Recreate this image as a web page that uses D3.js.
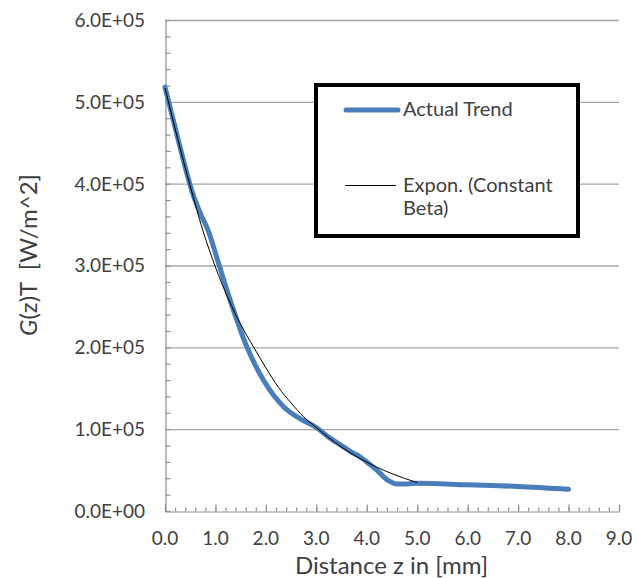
<!DOCTYPE html>
<html>
<head>
<meta charset="utf-8">
<script src="https://cdn.jsdelivr.net/npm/d3@7"></script>
<style>
  body { margin: 0; background: #fff; }
  svg text { font-family: Lato, "Open Sans", sans-serif; fill: #404040; }
</style>
</head>
<body>
<svg id="chart" width="636" height="578"></svg>
<script>
// Actual Trend (blue)
var actualX = [0, 0.26, 0.56, 0.7, 0.86, 1.06, 1.29, 1.62, 1.95, 2.35, 2.7, 3.0, 3.27, 3.5, 3.67, 3.87, 4.0, 4.2, 4.43, 4.6, 4.8, 5.0, 6.0, 7.0, 8.0];
var actualY = [5.18e5, 4.54e5, 3.86e5, 3.64e5, 3.42e5, 3.03e5, 2.58e5, 2.01e5, 1.60e5, 1.275e5, 1.12e5, 1.02e5, 0.89e5, 0.80e5, 0.73e5, 0.66e5, 0.60e5, 0.50e5, 0.37e5, 0.33e5, 0.33e5, 0.34e5, 0.32e5, 0.30e5, 0.265e5];

// Expon. (Constant Beta) (black)
var expoX = [0, 0.25, 0.5, 0.75, 1, 1.25, 1.5, 1.75, 2, 2.25, 2.5, 2.75, 3, 3.25, 3.5, 3.75, 4, 4.25, 4.5, 4.75, 5];
var expoY = [5.17e5, 4.55e5, 3.97e5, 3.43e5, 2.98e5, 2.60e5, 2.28e5, 2.01e5, 1.75e5, 1.51e5, 1.32e5, 1.15e5, 1.02e5, 0.894e5, 0.781e5, 0.683e5, 0.597e5, 0.521e5, 0.456e5, 0.398e5, 0.348e5];

var seriesNames = ["Actual Trend", "Expon. (Constant", "Beta)"];
var xTicks = [0, 1, 2, 3, 4, 5, 6, 7, 8, 9];
var yTicks = [0, 1e5, 2e5, 3e5, 4e5, 5e5, 6e5];
var yTickLabels = ["0.0E+00", "1.0E+05", "2.0E+05", "3.0E+05", "4.0E+05", "5.0E+05", "6.0E+05"];

var svg = d3.select("#chart");
var plotLeft = 165, plotRight = 619, plotTop = 20, plotBottom = 511;

var x = d3.scaleLinear().domain([0, 9]).range([plotLeft, plotRight]);
var y = d3.scaleLinear().domain([0, 6e5]).range([plotBottom, plotTop]);

// gridlines
svg.append("g")
    .selectAll("line")
    .data(yTicks.slice(1))
    .enter().append("line")
    .attr("x1", plotLeft).attr("x2", plotRight)
    .attr("y1", function(d) { return y(d) + 0.5; })
    .attr("y2", function(d) { return y(d) + 0.5; })
    .attr("stroke", "#a6a6a6").attr("stroke-width", 1.3);

// y axis with minor ticks inside
var yMinor = d3.range(0, 6e5 + 1, 2e4);
svg.append("g")
    .attr("transform", "translate(" + (plotLeft + 0.5) + ",0)")
    .call(d3.axisRight(y).tickValues(yMinor).tickSize(5).tickSizeOuter(0).tickFormat(""))
    .call(function(g) {
        g.selectAll("line, path").attr("stroke", "#909090").attr("stroke-width", 1.2);
    });

// x axis: major and minor ticks pointing up
var xMinor = d3.range(0, 9.001, 0.2);
svg.append("g")
    .attr("transform", "translate(0," + (plotBottom + 0.5) + ")")
    .call(d3.axisTop(x).tickValues(xMinor).tickSize(4).tickSizeOuter(0).tickFormat(""))
    .call(function(g) {
        g.selectAll("line, path").attr("stroke", "#909090").attr("stroke-width", 1.2);
    });
svg.append("g")
    .attr("transform", "translate(0," + (plotBottom + 0.5) + ")")
    .call(d3.axisTop(x).tickValues(xTicks).tickSize(7).tickSizeOuter(0).tickFormat(""))
    .call(function(g) {
        g.select("path").remove();
        g.selectAll("line").attr("stroke", "#909090").attr("stroke-width", 1.2);
    });

// tick labels
svg.append("g")
    .selectAll("text")
    .data(yTicks)
    .enter().append("text")
    .attr("x", plotLeft - 20)
    .attr("y", function(d) { return y(d); })
    .attr("dy", "0.36em")
    .attr("text-anchor", "end")
    .attr("font-size", 19)
    .text(function(d, i) { return yTickLabels[i]; });

svg.append("g")
    .selectAll("text")
    .data(xTicks)
    .enter().append("text")
    .attr("x", function(d) { return x(d); })
    .attr("y", 545)
    .attr("text-anchor", "middle")
    .attr("font-size", 19)
    .text(function(d) { return d.toFixed(1); });

// axis titles
svg.append("text")
    .attr("x", (plotLeft + plotRight) / 2 - 0.5)
    .attr("y", 574)
    .attr("text-anchor", "middle")
    .attr("font-size", 24)
    .text("Distance z in [mm]");

var ylab = svg.append("text")
    .attr("transform", "translate(37,255) rotate(-90)")
    .attr("text-anchor", "middle")
    .attr("font-size", 24);
ylab.append("tspan").attr("font-style", "italic").text("G");
ylab.append("tspan").attr("xml:space", "preserve").text("(z)T  [W/m^2]");

// lines
var line = d3.line()
    .x(function(d) { return x(d[0]); })
    .y(function(d) { return y(d[1]); })
    .curve(d3.curveMonotoneX);

svg.append("path")
    .datum(d3.zip(actualX, actualY))
    .attr("fill", "none")
    .attr("stroke", "#4a7ebb")
    .attr("stroke-width", 5)
    .attr("stroke-linecap", "round")
    .attr("d", line);

svg.append("path")
    .datum(d3.zip(expoX, expoY))
    .attr("fill", "none")
    .attr("stroke", "#000")
    .attr("stroke-width", 1)
    .attr("d", line);

// legend
var lg = svg.append("g");
lg.append("rect")
    .attr("x", 316).attr("y", 85)
    .attr("width", 262).attr("height", 151)
    .attr("fill", "#fff")
    .attr("stroke", "#000")
    .attr("stroke-width", 4);
lg.append("line")
    .attr("x1", 346).attr("x2", 398)
    .attr("y1", 110).attr("y2", 110)
    .attr("stroke", "#4a7ebb").attr("stroke-width", 5)
    .attr("stroke-linecap", "round");
lg.append("line")
    .attr("x1", 345).attr("x2", 396)
    .attr("y1", 185.5).attr("y2", 185.5)
    .attr("stroke", "#000").attr("stroke-width", 1);
lg.append("text").attr("x", 403).attr("y", 116).attr("font-size", 20).text(seriesNames[0]);
lg.append("text").attr("x", 403).attr("y", 192).attr("font-size", 20).text(seriesNames[1]);
lg.append("text").attr("x", 403).attr("y", 215).attr("font-size", 20).text(seriesNames[2]);
</script>
</body>
</html>
